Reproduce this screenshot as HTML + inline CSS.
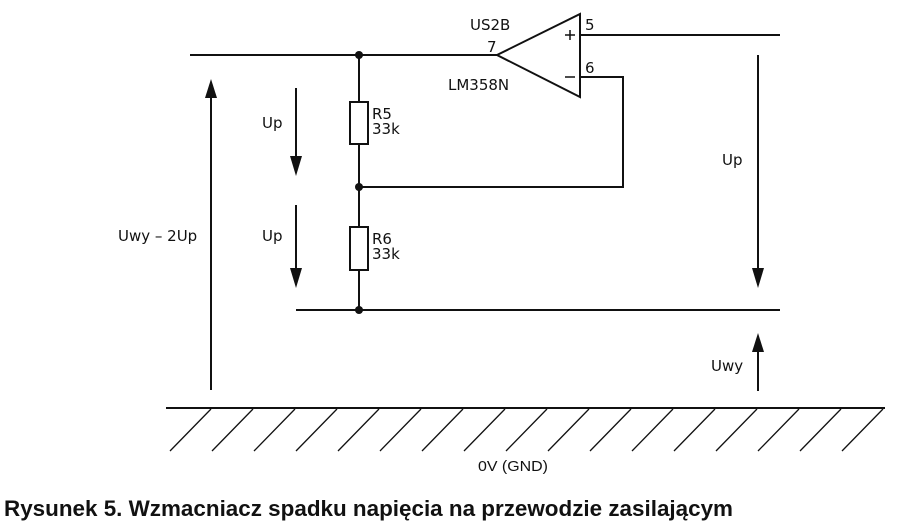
<!DOCTYPE html>
<html><head><meta charset="utf-8"><style>
body{margin:0;background:#fff;}
svg{display:block;}
text{font-family:"DejaVu Sans","Liberation Sans",sans-serif;font-size:15px;fill:#111;}
</style></head><body>
<svg width="900" height="527" viewBox="0 0 900 527" xmlns="http://www.w3.org/2000/svg">
<g stroke="#111" stroke-width="2" fill="none">
<line x1="190" y1="55" x2="497" y2="55"/>
<polygon points="497,55 580,14 580,97" fill="#fff"/>
<line x1="580" y1="35" x2="780" y2="35"/>
<polyline points="580,77 623,77 623,187 359,187"/>
<line x1="359" y1="55" x2="359" y2="310"/>
<rect x="350" y="102" width="18" height="42" fill="#fff"/>
<rect x="350" y="227" width="18" height="43" fill="#fff"/>
<line x1="296" y1="310" x2="780" y2="310"/>
<line x1="211" y1="390" x2="211" y2="95"/>
<line x1="296" y1="88" x2="296" y2="160"/>
<line x1="296" y1="205" x2="296" y2="272"/>
<line x1="758" y1="55" x2="758" y2="272"/>
<line x1="758" y1="391" x2="758" y2="348"/>
<line x1="166" y1="408" x2="885" y2="408"/>
<line x1="565" y1="35" x2="575" y2="35" stroke-width="1.5"/>
<line x1="570" y1="30" x2="570" y2="40" stroke-width="1.5"/>
<line x1="565" y1="77" x2="575" y2="77" stroke-width="1.5"/>
</g>
<g fill="#111">
<circle cx="359" cy="55" r="4"/><circle cx="359" cy="187" r="4"/><circle cx="359" cy="310" r="4"/>
<polygon points="211,79 205,98 217,98"/>
<polygon points="296,176 290,156 302,156"/>
<polygon points="296,288 290,268 302,268"/>
<polygon points="758,288 752,268 764,268"/>
<polygon points="758,333 752,352 764,352"/>
</g>
<g stroke="#111" stroke-width="1.3">
<line x1="211" y1="409" x2="170" y2="451"/><line x1="253" y1="409" x2="212" y2="451"/><line x1="295" y1="409" x2="254" y2="451"/><line x1="337" y1="409" x2="296" y2="451"/><line x1="379" y1="409" x2="338" y2="451"/><line x1="421" y1="409" x2="380" y2="451"/><line x1="463" y1="409" x2="422" y2="451"/><line x1="505" y1="409" x2="464" y2="451"/><line x1="547" y1="409" x2="506" y2="451"/><line x1="589" y1="409" x2="548" y2="451"/><line x1="631" y1="409" x2="590" y2="451"/><line x1="673" y1="409" x2="632" y2="451"/><line x1="715" y1="409" x2="674" y2="451"/><line x1="757" y1="409" x2="716" y2="451"/><line x1="799" y1="409" x2="758" y2="451"/><line x1="841" y1="409" x2="800" y2="451"/><line x1="883" y1="409" x2="842" y2="451"/>
</g>
<text x="470" y="30">US2B</text>
<text x="487" y="52">7</text>
<text x="448" y="90">LM358N</text>
<text x="585" y="30">5</text>
<text x="585" y="73">6</text>
<text x="372" y="119">R5</text>
<text x="372" y="134">33k</text>
<text x="372" y="244">R6</text>
<text x="372" y="259">33k</text>
<text x="262" y="128">Up</text>
<text x="262" y="241">Up</text>
<text x="118" y="241">Uwy – 2Up</text>
<text x="722" y="165">Up</text>
<text x="711" y="371">Uwy</text>
<text x="478" y="471" textLength="70" lengthAdjust="spacingAndGlyphs" style="font-family:'Liberation Sans',sans-serif;font-size:15px">0V  (GND)</text>
<text x="4" y="516" textLength="729" lengthAdjust="spacingAndGlyphs" style="font-family:'Liberation Sans',sans-serif;font-weight:bold;font-size:22px">Rysunek 5. Wzmacniacz spadku napięcia na przewodzie zasilającym</text>
</svg>
</body></html>
